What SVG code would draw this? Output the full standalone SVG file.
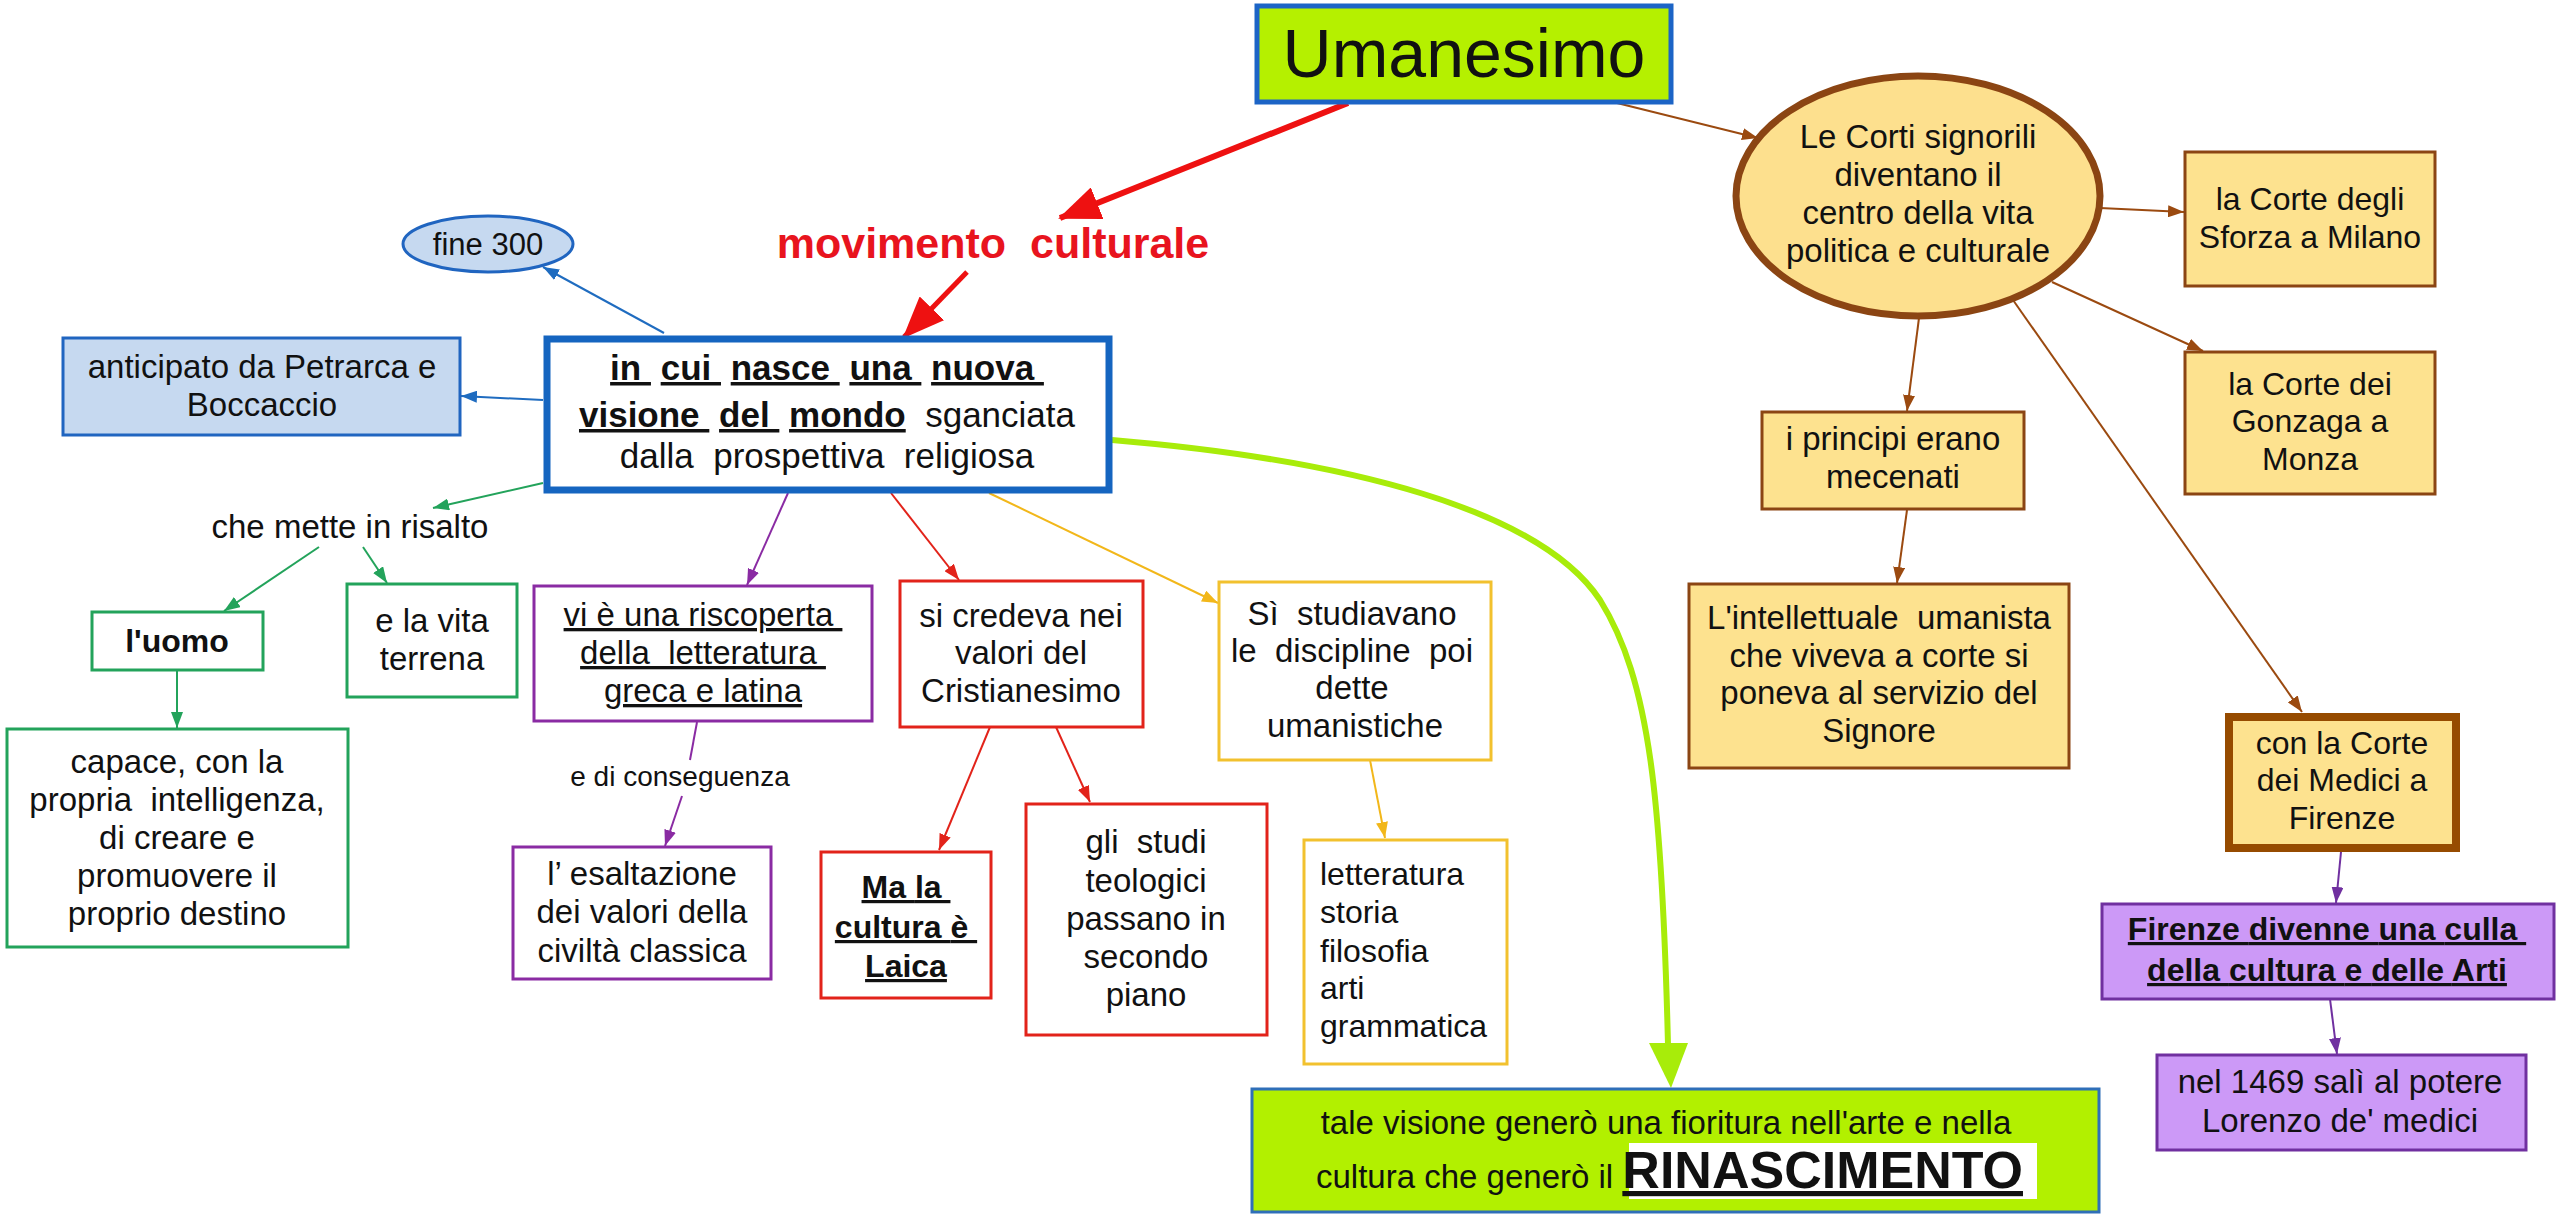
<svg xmlns="http://www.w3.org/2000/svg" width="2560" height="1218" viewBox="0 0 2560 1218">
<style>
.t{font-family:"Liberation Sans",Arial,Helvetica,sans-serif;fill:#111;text-anchor:middle;font-size:33px}
.s{text-anchor:start}
.b{font-weight:bold}
.u{text-decoration:underline}
.ln{fill:none;stroke-width:2}
.box{stroke-width:3}
.gr{stroke:#23a35b;fill:#fff}
.pu{stroke:#8a2ba3;fill:#fff}
.rd{stroke:#e2231a;fill:#fff}
.ye{stroke:#f2c12e;fill:#fff}
.br{stroke:#8b4513;fill:#fde28f}
.vi{stroke:#7030a0;fill:#cc99f7}
.bl{stroke:#2065c0;fill:#c6d9f0}
</style>
<defs>
<marker id="aBlue" markerWidth="16" markerHeight="12" refX="16" refY="6" orient="auto" markerUnits="userSpaceOnUse"><path d="M0,0 L16,6 L0,12 z" fill="#1f6cc0"/></marker>
<marker id="aGreen" markerWidth="16" markerHeight="12" refX="16" refY="6" orient="auto" markerUnits="userSpaceOnUse"><path d="M0,0 L16,6 L0,12 z" fill="#23a35b"/></marker>
<marker id="aPurple" markerWidth="16" markerHeight="12" refX="16" refY="6" orient="auto" markerUnits="userSpaceOnUse"><path d="M0,0 L16,6 L0,12 z" fill="#8a2ba3"/></marker>
<marker id="aViolet" markerWidth="16" markerHeight="12" refX="16" refY="6" orient="auto" markerUnits="userSpaceOnUse"><path d="M0,0 L16,6 L0,12 z" fill="#7030a0"/></marker>
<marker id="aRed" markerWidth="16" markerHeight="12" refX="16" refY="6" orient="auto" markerUnits="userSpaceOnUse"><path d="M0,0 L16,6 L0,12 z" fill="#e2231a"/></marker>
<marker id="aYellow" markerWidth="16" markerHeight="12" refX="16" refY="6" orient="auto" markerUnits="userSpaceOnUse"><path d="M0,0 L16,6 L0,12 z" fill="#f2b71a"/></marker>
<marker id="aBrown" markerWidth="16" markerHeight="12" refX="16" refY="6" orient="auto" markerUnits="userSpaceOnUse"><path d="M0,0 L16,6 L0,12 z" fill="#9b4a10"/></marker>
<marker id="aBigRed" markerWidth="42" markerHeight="34" refX="40" refY="17" orient="auto" markerUnits="userSpaceOnUse"><path d="M0,0 L42,17 L0,34 z" fill="#ee1111"/></marker>
</defs>
<rect width="2560" height="1218" fill="#fff"/>

<g id="connectors">
<path d="M1348,103 L1060,218" stroke="#ee1111" stroke-width="6" fill="none" marker-end="url(#aBigRed)"/>
<path d="M967,272 L904,337" stroke="#ee1111" stroke-width="5" fill="none" marker-end="url(#aBigRed)"/>
<path class="ln" d="M664,333 L543,267" stroke="#1f6cc0" marker-end="url(#aBlue)"/>
<path class="ln" d="M543,400 L461,396" stroke="#1f6cc0" marker-end="url(#aBlue)"/>
<path class="ln" d="M543,483 L433,508" stroke="#23a35b" marker-end="url(#aGreen)"/>
<path class="ln" d="M319,547 L224,611" stroke="#23a35b" marker-end="url(#aGreen)"/>
<path class="ln" d="M363,547 L387,583" stroke="#23a35b" marker-end="url(#aGreen)"/>
<path class="ln" d="M177,670 L177,728" stroke="#23a35b" marker-end="url(#aGreen)"/>
<path class="ln" d="M788,493 L747,585" stroke="#8a2ba3" marker-end="url(#aPurple)"/>
<path class="ln" d="M697,722 L690,760" stroke="#8a2ba3"/>
<path class="ln" d="M682,796 L665,846" stroke="#8a2ba3" marker-end="url(#aPurple)"/>
<path class="ln" d="M891,493 L959,580" stroke="#e2231a" marker-end="url(#aRed)"/>
<path class="ln" d="M990,727 L939,850" stroke="#e2231a" marker-end="url(#aRed)"/>
<path class="ln" d="M1056,727 L1090,802" stroke="#e2231a" marker-end="url(#aRed)"/>
<path class="ln" d="M989,493 L1218,603" stroke="#f2b71a" marker-end="url(#aYellow)"/>
<path class="ln" d="M1370,760 L1385,838" stroke="#f2b71a" marker-end="url(#aYellow)"/>
<path d="M1112,440 C1350,460 1540,510 1600,600 C1650,680 1662,800 1668,1045" stroke="#a8ec0a" stroke-width="6" fill="none"/>
<polygon points="1649,1043 1688,1043 1671,1088" fill="#a8ec0a"/>
<path class="ln" d="M1617,103 L1758,138" stroke="#9b4a10" marker-end="url(#aBrown)"/>
<path class="ln" d="M2100,208 L2184,212" stroke="#9b4a10" marker-end="url(#aBrown)"/>
<path class="ln" d="M2052,282 L2203,351" stroke="#9b4a10" marker-end="url(#aBrown)"/>
<path class="ln" d="M1919,318 L1907,411" stroke="#9b4a10" marker-end="url(#aBrown)"/>
<path class="ln" d="M1907,510 L1897,583" stroke="#9b4a10" marker-end="url(#aBrown)"/>
<path class="ln" d="M2013,300 L2302,712" stroke="#9b4a10" marker-end="url(#aBrown)"/>
<path class="ln" d="M2341,852 L2336,903" stroke="#7030a0" marker-end="url(#aViolet)"/>
<path class="ln" d="M2330,999 L2337,1054" stroke="#7030a0" marker-end="url(#aViolet)"/>
</g>

<g id="umanesimo">
<rect x="1257" y="6" width="414" height="96" fill="#b5f000" stroke="#1c64c6" stroke-width="5"/>
<text class="t" x="1464" y="77" style="font-size:68px">Umanesimo</text>
</g>

<g id="movimento">
<text class="t b" x="993" y="258" style="font-size:43px;fill:#e8141e" xml:space="preserve">movimento  culturale</text>
</g>

<g id="fine300">
<ellipse cx="488" cy="244" rx="85" ry="28" class="bl" stroke-width="3"/>
<text class="t" x="488" y="255" style="font-size:31px">fine 300</text>
</g>

<g id="anticipato">
<rect x="63" y="338" width="397" height="97" class="bl box"/>
<text class="t" x="262" y="378">anticipato da Petrarca e</text>
<text class="t" x="262" y="416">Boccaccio</text>
</g>

<g id="centrale">
<rect x="547" y="339" width="562" height="151" fill="#fff" stroke="#1565c0" stroke-width="7"/>
<text class="t" x="827" y="380" style="font-size:35px" xml:space="preserve"><tspan class="b u">in </tspan><tspan class="b"> </tspan><tspan class="b u">cui </tspan><tspan class="b"> </tspan><tspan class="b u">nasce </tspan><tspan class="b"> </tspan><tspan class="b u">una </tspan><tspan class="b"> </tspan><tspan class="b u">nuova </tspan></text>
<text class="t" x="827" y="427" style="font-size:35px" xml:space="preserve"><tspan class="b u">visione </tspan><tspan class="b"> </tspan><tspan class="b u">del </tspan><tspan class="b"> </tspan><tspan class="b u">mondo</tspan>  sganciata</text>
<text class="t" x="827" y="468" style="font-size:35px" xml:space="preserve">dalla  prospettiva  religiosa</text>
</g>

<g id="risalto">
<text class="t" x="350" y="538">che mette in risalto</text>
</g>

<g id="uomo">
<rect x="92" y="612" width="171" height="58" class="gr box"/>
<text class="t b" x="177" y="652" style="font-size:32px">l'uomo</text>
</g>

<g id="vita">
<rect x="347" y="584" width="170" height="113" class="gr box"/>
<text class="t" x="432" y="632">e la vita</text>
<text class="t" x="432" y="670">terrena</text>
</g>

<g id="capace">
<rect x="7" y="729" width="341" height="218" class="gr box"/>
<text class="t" x="177" y="773">capace, con la</text>
<text class="t" x="177" y="811" xml:space="preserve">propria  intelligenza,</text>
<text class="t" x="177" y="849">di creare e</text>
<text class="t" x="177" y="887">promuovere il</text>
<text class="t" x="177" y="925">proprio destino</text>
</g>

<g id="riscoperta">
<rect x="534" y="586" width="338" height="135" class="pu box"/>
<text class="t u" x="703" y="626" xml:space="preserve">vi è una riscoperta </text>
<text class="t u" x="703" y="664" xml:space="preserve">della  letteratura </text>
<text class="t u" x="703" y="702">greca e latina</text>
</g>

<g id="conseguenza">
<text class="t" x="680" y="786" style="font-size:28px">e di conseguenza</text>
</g>

<g id="esaltazione">
<rect x="513" y="847" width="258" height="132" class="pu box"/>
<text class="t" x="642" y="885">l’ esaltazione</text>
<text class="t" x="642" y="923">dei valori della</text>
<text class="t" x="642" y="962">civiltà classica</text>
</g>

<g id="credeva">
<rect x="900" y="581" width="243" height="146" class="rd box"/>
<text class="t" x="1021" y="627">si credeva nei</text>
<text class="t" x="1021" y="664">valori del</text>
<text class="t" x="1021" y="702">Cristianesimo</text>
</g>

<g id="laica">
<rect x="821" y="852" width="170" height="146" class="rd box"/>
<text class="t b" x="906" y="898" style="font-size:32px" xml:space="preserve"><tspan class="u">Ma </tspan><tspan class="u">la </tspan></text>
<text class="t b" x="906" y="938" style="font-size:32px" xml:space="preserve"><tspan class="u">cultura </tspan><tspan class="u">è </tspan></text>
<text class="t b u" x="906" y="977" style="font-size:32px">Laica</text>
</g>

<g id="teologici">
<rect x="1026" y="804" width="241" height="231" class="rd box"/>
<text class="t" x="1146" y="853" xml:space="preserve">gli  studi</text>
<text class="t" x="1146" y="892">teologici</text>
<text class="t" x="1146" y="930">passano in</text>
<text class="t" x="1146" y="968">secondo</text>
<text class="t" x="1146" y="1006">piano</text>
</g>

<g id="studiavano">
<rect x="1219" y="582" width="272" height="178" class="ye box"/>
<text class="t" x="1352" y="625" xml:space="preserve">Sì  studiavano</text>
<text class="t" x="1352" y="662" xml:space="preserve">le  discipline  poi</text>
<text class="t" x="1352" y="699">dette</text>
<text class="t" x="1355" y="737">umanistiche</text>
</g>

<g id="discipline">
<rect x="1304" y="840" width="203" height="224" class="ye box"/>
<text class="t s" x="1320" y="885" style="font-size:32px">letteratura</text>
<text class="t s" x="1320" y="923" style="font-size:32px">storia</text>
<text class="t s" x="1320" y="962" style="font-size:32px">filosofia</text>
<text class="t s" x="1320" y="999" style="font-size:32px">arti</text>
<text class="t s" x="1320" y="1037" style="font-size:32px">grammatica</text>
</g>

<g id="rinascimento">
<rect x="1252" y="1089" width="847" height="123" fill="#b2f000" stroke="#2f6fb8" stroke-width="3"/>
<text class="t" x="1666" y="1134">tale visione generò una fioritura nell'arte e nella</text>
<rect x="1629" y="1143" width="408" height="56" fill="#fff"/>
<text class="t s" x="1316" y="1188" xml:space="preserve">cultura che generò il <tspan class="b u" style="font-size:52px">RINASCIMENTO</tspan></text>
</g>

<g id="corti">
<ellipse cx="1918" cy="196" rx="182" ry="120" fill="#fde08e" stroke="#8b4513" stroke-width="7"/>
<text class="t" x="1918" y="148">Le Corti signorili</text>
<text class="t" x="1918" y="186">diventano il</text>
<text class="t" x="1918" y="224">centro della vita</text>
<text class="t" x="1918" y="262">politica e culturale</text>
</g>

<g id="sforza">
<rect x="2185" y="152" width="250" height="134" class="br box"/>
<text class="t" x="2310" y="210" style="font-size:32px">la Corte degli</text>
<text class="t" x="2310" y="248" style="font-size:32px">Sforza a Milano</text>
</g>

<g id="gonzaga">
<rect x="2185" y="352" width="250" height="142" class="br box"/>
<text class="t" x="2310" y="395" style="font-size:32px">la Corte dei</text>
<text class="t" x="2310" y="432" style="font-size:32px">Gonzaga a</text>
<text class="t" x="2310" y="470" style="font-size:32px">Monza</text>
</g>

<g id="principi">
<rect x="1762" y="412" width="262" height="97" class="br box"/>
<text class="t" x="1893" y="450">i principi erano</text>
<text class="t" x="1893" y="488">mecenati</text>
</g>

<g id="intellettuale">
<rect x="1689" y="584" width="380" height="184" class="br box"/>
<text class="t" x="1879" y="629" xml:space="preserve">L'intellettuale  umanista</text>
<text class="t" x="1879" y="667">che viveva a corte si</text>
<text class="t" x="1879" y="704">poneva al servizio del</text>
<text class="t" x="1879" y="742">Signore</text>
</g>

<g id="medici">
<rect x="2229" y="717" width="227" height="131" fill="#fde28f" stroke="#964b00" stroke-width="8"/>
<text class="t" x="2342" y="754" style="font-size:32px">con la Corte</text>
<text class="t" x="2342" y="791" style="font-size:32px">dei Medici a</text>
<text class="t" x="2342" y="829" style="font-size:32px">Firenze</text>
</g>

<g id="firenze">
<rect x="2102" y="904" width="452" height="95" class="vi box"/>
<text class="t b" x="2327" y="940" style="font-size:32px" xml:space="preserve"><tspan class="u">Firenze </tspan><tspan class="u">divenne </tspan><tspan class="u">una </tspan><tspan class="u">culla </tspan></text>
<text class="t b" x="2327" y="981" style="font-size:32px" xml:space="preserve"><tspan class="u">della </tspan><tspan class="u">cultura </tspan><tspan class="u">e </tspan><tspan class="u">delle </tspan><tspan class="u">Arti</tspan></text>
</g>

<g id="lorenzo">
<rect x="2157" y="1055" width="369" height="95" class="vi box"/>
<text class="t" x="2340" y="1093">nel 1469 salì al potere</text>
<text class="t" x="2340" y="1132">Lorenzo de' medici</text>
</g>
</svg>
